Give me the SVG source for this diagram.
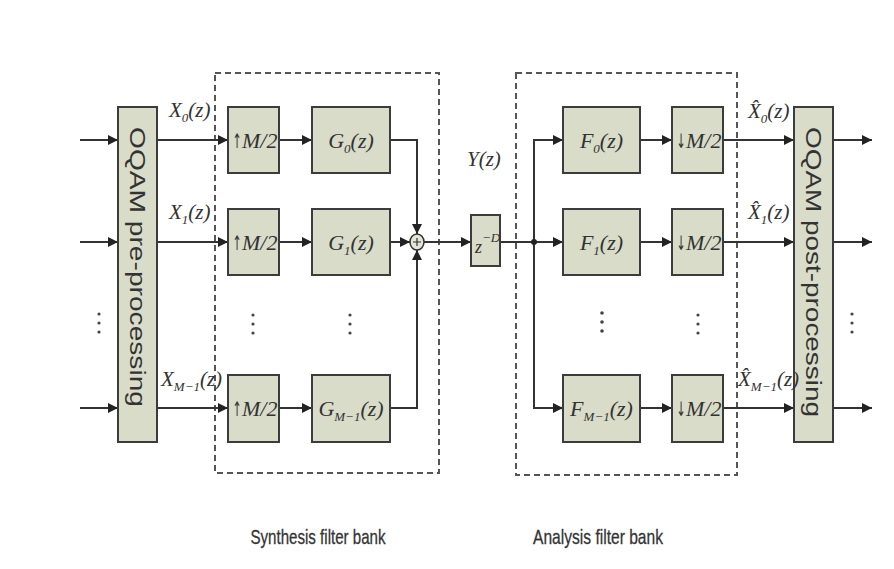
<svg xmlns="http://www.w3.org/2000/svg" width="894" height="569" viewBox="0 0 894 569">
<defs>
<marker id="arr" viewBox="0 0 10 10" refX="10" refY="5" markerWidth="10" markerHeight="10" markerUnits="userSpaceOnUse" orient="auto">
<path d="M0,0 L10,5 L0,10 z" fill="#222"/>
</marker>
</defs>
<style>
.box{fill:#d9dcc8;stroke:#3c3c3c;stroke-width:2}
.dash{fill:none;stroke:#555;stroke-width:2;stroke-dasharray:6 4}
.ln{fill:none;stroke:#333;stroke-width:2}
.m{font-family:"Liberation Serif",serif;font-style:italic;font-size:22px;fill:#333}
.sub{font-size:13px}
.lbl{font-family:"Liberation Serif",serif;font-style:italic;font-size:21px;fill:#333}
.vt{font-family:"Liberation Sans",Arial,sans-serif;font-size:22px;fill:#333}
.cap{font-family:"Liberation Sans",Arial,sans-serif;font-size:21px;fill:#333;stroke:#333;stroke-width:0.3}
.ar{font-family:"DejaVu Sans",sans-serif;font-size:20px;fill:#333}
.dot{fill:#444}
</style>
<rect x="0" y="0" width="894" height="569" fill="#fff"/>

<g id="synthesis-bank"><rect class="dash" x="215" y="73" width="224" height="400"/></g>
<g id="analysis-bank"><rect class="dash" x="516" y="73" width="221" height="402"/></g>

<g id="connectors">
<line class="ln" x1="80" y1="140" x2="118" y2="140" marker-end="url(#arr)"/>
<line class="ln" x1="80" y1="242" x2="118" y2="242" marker-end="url(#arr)"/>
<line class="ln" x1="80" y1="408" x2="118" y2="408" marker-end="url(#arr)"/>
<line class="ln" x1="157" y1="140" x2="228" y2="140" marker-end="url(#arr)"/>
<line class="ln" x1="157" y1="242" x2="228" y2="242" marker-end="url(#arr)"/>
<line class="ln" x1="157" y1="408" x2="228" y2="408" marker-end="url(#arr)"/>
<line class="ln" x1="279" y1="140" x2="312" y2="140" marker-end="url(#arr)"/>
<line class="ln" x1="279" y1="242" x2="312" y2="242" marker-end="url(#arr)"/>
<line class="ln" x1="279" y1="408" x2="312" y2="408" marker-end="url(#arr)"/>
<polyline class="ln" points="390,140 417,140 417,234" marker-end="url(#arr)"/>
<line class="ln" x1="390" y1="242" x2="410" y2="242" marker-end="url(#arr)"/>
<polyline class="ln" points="390,408 417,408 417,250" marker-end="url(#arr)"/>
<line class="ln" x1="424" y1="242" x2="471" y2="242" marker-end="url(#arr)"/>
<line class="ln" x1="500" y1="242" x2="563" y2="242" marker-end="url(#arr)"/>
<polyline class="ln" points="563,140 534,140 534,408 563,408"/>
<line class="ln" x1="534" y1="140" x2="563" y2="140" marker-end="url(#arr)"/>
<line class="ln" x1="534" y1="408" x2="563" y2="408" marker-end="url(#arr)"/>
<circle cx="534" cy="242" r="3" fill="#222"/>
<line class="ln" x1="640" y1="140" x2="672" y2="140" marker-end="url(#arr)"/>
<line class="ln" x1="640" y1="242" x2="672" y2="242" marker-end="url(#arr)"/>
<line class="ln" x1="640" y1="408" x2="672" y2="408" marker-end="url(#arr)"/>
<line class="ln" x1="723" y1="140" x2="794" y2="140" marker-end="url(#arr)"/>
<line class="ln" x1="723" y1="242" x2="794" y2="242" marker-end="url(#arr)"/>
<line class="ln" x1="723" y1="408" x2="794" y2="408" marker-end="url(#arr)"/>
<line class="ln" x1="833" y1="140" x2="872" y2="140" marker-end="url(#arr)"/>
<line class="ln" x1="833" y1="242" x2="872" y2="242" marker-end="url(#arr)"/>
<line class="ln" x1="833" y1="408" x2="872" y2="408" marker-end="url(#arr)"/>
</g>

<g id="pre"><rect class="box" x="118" y="107" width="39" height="335"/>
<text class="vt" transform="translate(137.5,267) rotate(90)" text-anchor="middle" dominant-baseline="central" textLength="280" lengthAdjust="spacingAndGlyphs">OQAM pre-processing</text></g>
<g id="post"><rect class="box" x="794" y="107" width="39" height="335"/>
<text class="vt" transform="translate(813.5,272) rotate(90)" text-anchor="middle" dominant-baseline="central" textLength="290" lengthAdjust="spacingAndGlyphs">OQAM post-processing</text></g>

<g id="up0"><rect class="box" x="228" y="107" width="51" height="66"/><text class="ar" transform="translate(237,148) scale(0.55,1)" text-anchor="middle">↑</text><text class="m" x="242" y="148">M/2</text></g>
<g id="up1"><rect class="box" x="228" y="209" width="51" height="66"/><text class="ar" transform="translate(237,250) scale(0.55,1)" text-anchor="middle">↑</text><text class="m" x="242" y="250">M/2</text></g>
<g id="upM"><rect class="box" x="228" y="375" width="51" height="67"/><text class="ar" transform="translate(237,416) scale(0.55,1)" text-anchor="middle">↑</text><text class="m" x="242" y="416">M/2</text></g>

<g id="g0"><rect class="box" x="312" y="107" width="78" height="66"/><text class="m" x="351" y="148" text-anchor="middle">G<tspan class="sub" dy="5">0</tspan><tspan dy="-5">(z)</tspan></text></g>
<g id="g1"><rect class="box" x="312" y="209" width="78" height="66"/><text class="m" x="351" y="250" text-anchor="middle">G<tspan class="sub" dy="5">1</tspan><tspan dy="-5">(z)</tspan></text></g>
<g id="gM"><rect class="box" x="312" y="375" width="78" height="67"/><text class="m" x="351" y="416" text-anchor="middle">G<tspan class="sub" dy="5">M−1</tspan><tspan dy="-5">(z)</tspan></text></g>

<g id="sum"><ellipse cx="417" cy="242" rx="7" ry="8" fill="#e4e4da" stroke="#333" stroke-width="1.5"/><path d="M413,242 H421 M417,238 V246" stroke="#333" stroke-width="1.2"/></g>

<g id="delay"><rect class="box" x="471" y="215" width="29" height="51"/><text class="m" x="475" y="253" style="font-size:18px">z<tspan class="sub" dy="-11">−D</tspan></text></g>

<g id="f0"><rect class="box" x="563" y="107" width="77" height="66"/><text class="m" x="601.5" y="148" text-anchor="middle">F<tspan class="sub" dy="5">0</tspan><tspan dy="-5">(z)</tspan></text></g>
<g id="f1"><rect class="box" x="563" y="209" width="77" height="66"/><text class="m" x="601.5" y="250" text-anchor="middle">F<tspan class="sub" dy="5">1</tspan><tspan dy="-5">(z)</tspan></text></g>
<g id="fM"><rect class="box" x="563" y="375" width="77" height="67"/><text class="m" x="601.5" y="416" text-anchor="middle">F<tspan class="sub" dy="5">M−1</tspan><tspan dy="-5">(z)</tspan></text></g>

<g id="dn0"><rect class="box" x="672" y="107" width="51" height="66"/><text class="ar" transform="translate(681,148) scale(0.55,1)" text-anchor="middle">↓</text><text class="m" x="686" y="148">M/2</text></g>
<g id="dn1"><rect class="box" x="672" y="209" width="51" height="66"/><text class="ar" transform="translate(681,250) scale(0.55,1)" text-anchor="middle">↓</text><text class="m" x="686" y="250">M/2</text></g>
<g id="dnM"><rect class="box" x="672" y="375" width="51" height="67"/><text class="ar" transform="translate(681,416) scale(0.55,1)" text-anchor="middle">↓</text><text class="m" x="686" y="416">M/2</text></g>

<g id="labels">
<text class="lbl" x="169" y="117">X<tspan class="sub" dy="5">0</tspan><tspan dy="-5">(z)</tspan></text>
<text class="lbl" x="169" y="219">X<tspan class="sub" dy="5">1</tspan><tspan dy="-5">(z)</tspan></text>
<text class="lbl" x="161" y="386">X<tspan class="sub" dy="5">M−1</tspan><tspan dy="-5">(z)</tspan></text>
<text class="lbl" x="467" y="166">Y(z)</text>
<text class="lbl" x="748" y="118">X̂<tspan class="sub" dy="5">0</tspan><tspan dy="-5">(z)</tspan></text>
<text class="lbl" x="748" y="219">X̂<tspan class="sub" dy="5">1</tspan><tspan dy="-5">(z)</tspan></text>
<text class="lbl" x="738" y="386">X̂<tspan class="sub" dy="5">M−1</tspan><tspan dy="-5">(z)</tspan></text>
<text class="cap" x="318" y="544" text-anchor="middle" textLength="135" lengthAdjust="spacingAndGlyphs">Synthesis filter bank</text>
<text class="cap" x="598" y="544" text-anchor="middle" textLength="130" lengthAdjust="spacingAndGlyphs">Analysis filter bank</text>
</g>

<g id="ellipses">
<circle class="dot" cx="99" cy="314" r="1.6"/><circle class="dot" cx="99" cy="323" r="1.6"/><circle class="dot" cx="99" cy="332" r="1.6"/>
<circle class="dot" cx="253" cy="315" r="1.6"/><circle class="dot" cx="253" cy="324" r="1.6"/><circle class="dot" cx="253" cy="333" r="1.6"/>
<circle class="dot" cx="350" cy="315" r="1.6"/><circle class="dot" cx="350" cy="324" r="1.6"/><circle class="dot" cx="350" cy="333" r="1.6"/>
<circle class="dot" cx="602" cy="313" r="1.8"/><circle class="dot" cx="602" cy="322" r="1.8"/><circle class="dot" cx="602" cy="331" r="1.8"/>
<circle class="dot" cx="698" cy="315" r="1.6"/><circle class="dot" cx="698" cy="324" r="1.6"/><circle class="dot" cx="698" cy="333" r="1.6"/>
<circle class="dot" cx="852" cy="314" r="1.6"/><circle class="dot" cx="852" cy="323" r="1.6"/><circle class="dot" cx="852" cy="332" r="1.6"/>
</g>
</svg>
